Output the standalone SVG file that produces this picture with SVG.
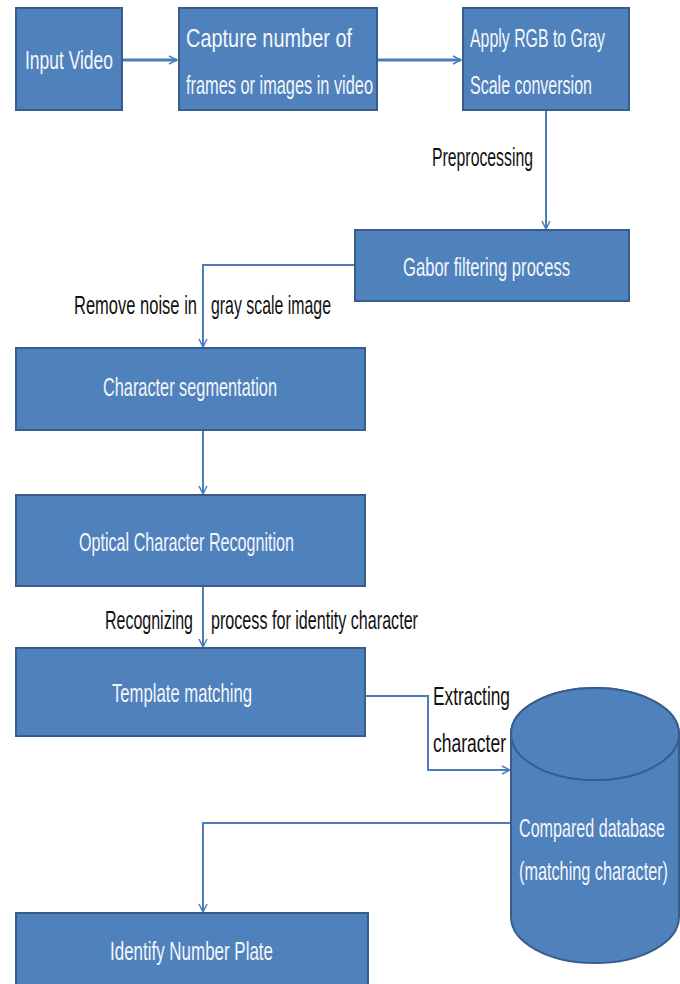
<svg xmlns="http://www.w3.org/2000/svg" width="680" height="984" viewBox="0 0 680 984">
<defs>
<style>
.box{fill:#4F81BD;stroke:#385D8A;stroke-width:2}
.t{font-family:"Liberation Sans",Arial,sans-serif;font-size:25px;fill:#F4F6FA;lengthAdjust:spacingAndGlyphs}
.l{font-family:"Liberation Sans",Arial,sans-serif;font-size:25px;fill:#111}
.c{fill:none;stroke:#4A7EBB;stroke-width:2}
.c2{fill:none;stroke:#4A7EBB;stroke-width:3}
</style>
<marker id="ah" viewBox="0 0 10 10" refX="9" refY="5" markerWidth="10" markerHeight="10" markerUnits="userSpaceOnUse" orient="auto">
<path d="M1,1 L9,5 L1,9" fill="none" stroke="#4A7EBB" stroke-width="1.5"/>
</marker>
</defs>
<rect width="680" height="984" fill="#FFFFFF"/>
<g id="connectors">
<path class="c2" d="M122,60 H177" marker-end="url(#ah)"/>
<path class="c2" d="M377,60 H461" marker-end="url(#ah)"/>
<path class="c" d="M546,110 V229" marker-end="url(#ah)"/>
<path class="c" d="M355,265 H203 V347" marker-end="url(#ah)"/>
<path class="c" d="M203,430 V494" marker-end="url(#ah)"/>
<path class="c" d="M203,586 V647" marker-end="url(#ah)"/>
<path class="c" d="M365,696 H428 V770 H510" marker-end="url(#ah)"/>
<path class="c" d="M511,823 H203 V912" marker-end="url(#ah)"/>
</g>
<g id="input-video">
<rect class="box" x="16" y="8" width="106" height="102"/>
<text class="t" x="25" y="69" textLength="88" lengthAdjust="spacingAndGlyphs">Input Video</text>
</g>
<g id="capture">
<rect class="box" x="179" y="8" width="198" height="102"/>
<text class="t" x="186" y="47" textLength="166" lengthAdjust="spacingAndGlyphs">Capture number of</text>
<text class="t" x="186" y="94" textLength="187" lengthAdjust="spacingAndGlyphs">frames or images in video</text>
</g>
<g id="rgb-gray">
<rect class="box" x="463" y="8" width="166" height="102"/>
<text class="t" x="470" y="47" textLength="135" lengthAdjust="spacingAndGlyphs">Apply RGB to Gray</text>
<text class="t" x="470" y="94" textLength="122" lengthAdjust="spacingAndGlyphs">Scale conversion</text>
</g>
<text class="l" x="432" y="166" textLength="101" lengthAdjust="spacingAndGlyphs">Preprocessing</text>
<g id="gabor">
<rect class="box" x="355" y="230" width="274" height="71"/>
<text class="t" x="403" y="276" textLength="167" lengthAdjust="spacingAndGlyphs">Gabor filtering process</text>
</g>
<text class="l" x="74" y="314" textLength="123" lengthAdjust="spacingAndGlyphs">Remove noise  in</text>
<text class="l" x="211" y="314" textLength="120" lengthAdjust="spacingAndGlyphs">gray scale image</text>
<g id="char-seg">
<rect class="box" x="16" y="348" width="349" height="82"/>
<text class="t" x="103" y="396" textLength="174" lengthAdjust="spacingAndGlyphs">Character segmentation</text>
</g>
<g id="ocr">
<rect class="box" x="16" y="495" width="349" height="91"/>
<text class="t" x="79" y="551" textLength="215" lengthAdjust="spacingAndGlyphs">Optical Character Recognition</text>
</g>
<text class="l" x="105" y="629" textLength="88" lengthAdjust="spacingAndGlyphs">Recognizing</text>
<text class="l" x="211" y="629" textLength="207" lengthAdjust="spacingAndGlyphs">process for identity character</text>
<g id="template">
<rect class="box" x="16" y="648" width="349" height="88"/>
<text class="t" x="112" y="702" textLength="140" lengthAdjust="spacingAndGlyphs">Template matching</text>
</g>
<text class="l" x="433" y="705" textLength="77" lengthAdjust="spacingAndGlyphs">Extracting</text>
<text class="l" x="433" y="752" textLength="73" lengthAdjust="spacingAndGlyphs">character</text>
<g id="database">
<path class="box" d="M511,734 A84,46 0 0 1 679,734 V917 A84,46 0 0 1 511,917 Z"/>
<ellipse cx="595" cy="734" rx="84" ry="46" fill="#4F81BD" stroke="#385D8A" stroke-width="2"/>
<text class="t" x="519" y="837" textLength="146" lengthAdjust="spacingAndGlyphs">Compared database</text>
<text class="t" x="519" y="880" textLength="149" lengthAdjust="spacingAndGlyphs">(matching character)</text>
</g>
<g id="identify">
<rect class="box" x="16" y="913" width="352" height="80"/>
<text class="t" x="110" y="960" textLength="163" lengthAdjust="spacingAndGlyphs">Identify Number Plate</text>
</g>
</svg>
